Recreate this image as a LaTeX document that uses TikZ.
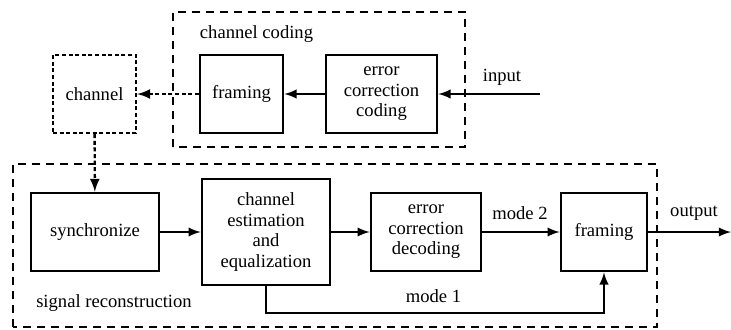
\documentclass[tikz,border=0pt]{standalone}
\usepackage{fontspec}
\setmainfont{Liberation Serif}
\usetikzlibrary{arrows.meta}

\begin{document}
\begin{tikzpicture}[x=0.5pt,y=0.5pt,
    font=\fontsize{9.3}{10.2}\selectfont,
    block/.style={draw,line width=1.3pt,align=center,inner sep=1pt,minimum height=39pt},
    chanbox/.style={block,line width=1.2pt,dash pattern=on 2pt off 1.3pt},
    group/.style={draw,line width=0.7pt,dash pattern=on 4pt off 3pt},
    flow/.style={line width=1.1pt,-latex},
    dflow/.style={flow,line width=1.2pt,dash pattern=on 2pt off 1.3pt}]
    \useasboundingbox (0,0) rectangle (731,329);
    % channel coding
    \draw[group] (173,182) rectangle (465,317);
    \node (cclbl) at (256.5,295) {channel coding};
    \node[block,minimum width=41.5pt] (frame) at (241.5,235) {framing};
    \node[block,minimum width=55.5pt] (ecc) at (381.5,235) {error\\correction\\coding};
    \coordinate (in) at (540,235);
    \node (inlbl) at (502,252) {input};
    % channel
    \node[chanbox,minimum width=41.5pt] (chan) at (94.5,235) {channel};
    % signal reconstruction
    \draw[group] (13,2) rectangle (657,165);
    \node (srlbl) at (114,26) {signal reconstruction};
    \node[block,minimum width=64pt] (sync) at (95,97) {synchronize};
    \node[block,minimum width=64pt,minimum height=53pt] (est) at (266,97) {channel\\estimation\\and\\equalization};
    \node[block,minimum width=55pt] (ecd) at (426,97) {error\\correction\\decoding};
    \node[block,minimum width=43pt] (frame2) at (604,97) {framing};
    \coordinate (out) at (731,97);
    \node (outlbl) at (694,116) {output};
    \node (m2lbl) at (520,116) {mode 2};
    \node (m1lbl) at (433.5,33) {mode 1};
    % connectors
    \draw[flow] (in) -- (ecc);
    \draw[flow] (ecc) -- (frame);
    \draw[dflow] (frame) -- (chan);
    \draw[dflow] (chan) -- (sync);
    \draw[flow] (sync) -- (est);
    \draw[flow] (est) -- (ecd);
    \draw[flow] (ecd) -- (frame2);
    \draw[flow] (frame2) -- (out);
    \draw[flow] (est.south) -- ++(0,-27) -| (frame2.south);
\end{tikzpicture}
\end{document}
